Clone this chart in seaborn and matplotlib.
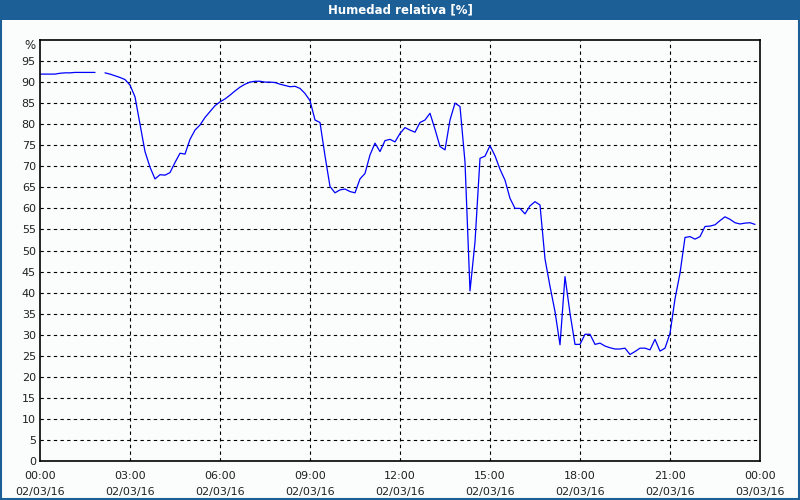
import numpy as np
import pandas as pd
import matplotlib
matplotlib.use("Agg")
import matplotlib.pyplot as plt
import seaborn as sns

# ---- data (10-minute samples, 02/03/16) ----
times = [
    "00:00", "00:10", "00:20", "00:30", "00:40", "00:50", "01:00", "01:10", "01:20", "01:30",
    "01:40", "01:50", "02:00", "02:10", "02:20", "02:30", "02:40", "02:50", "03:00", "03:10",
    "03:20", "03:30", "03:40", "03:50", "04:00", "04:10", "04:20", "04:30", "04:40", "04:50",
    "05:00", "05:10", "05:20", "05:30", "05:40", "05:50", "06:00", "06:10", "06:20", "06:30",
    "06:40", "06:50", "07:00", "07:10", "07:20", "07:30", "07:40", "07:50", "08:00", "08:10",
    "08:20", "08:30", "08:40", "08:50", "09:00", "09:10", "09:20", "09:30", "09:40", "09:50",
    "10:00", "10:10", "10:20", "10:30", "10:40", "10:50", "11:00", "11:10", "11:20", "11:30",
    "11:40", "11:50", "12:00", "12:10", "12:20", "12:30", "12:40", "12:50", "13:00", "13:10",
    "13:20", "13:30", "13:40", "13:50", "14:00", "14:10", "14:20", "14:30", "14:40", "14:50",
    "15:00", "15:10", "15:20", "15:30", "15:40", "15:50", "16:00", "16:10", "16:20", "16:30",
    "16:40", "16:50", "17:00", "17:10", "17:20", "17:30", "17:40", "17:50", "18:00", "18:10",
    "18:20", "18:30", "18:40", "18:50", "19:00", "19:10", "19:20", "19:30", "19:40", "19:50",
    "20:00", "20:10", "20:20", "20:30", "20:40", "20:50", "21:00", "21:10", "21:20", "21:30",
    "21:40", "21:50", "22:00", "22:10", "22:20", "22:30", "22:40", "22:50", "23:00", "23:10",
    "23:20", "23:30", "23:40", "23:50",
]
humidity = [
    91.9, 91.9, 91.9, 91.9, 92.1, 92.2, 92.2, 92.3, 92.3, 92.3,
    92.3, 92.3, np.nan, 92.2, 91.9, 91.5, 91.1, 90.6, 89.3, 86.5,
    80.0, 73.5, 69.8, 67.0, 68.0, 67.9, 68.5, 70.9, 73.1, 72.9,
    76.4, 78.6, 79.8, 81.6, 83.0, 84.4, 85.3, 86.0, 86.9, 87.9,
    88.8, 89.5, 90.0, 90.2, 90.2, 90.0, 90.0, 89.9, 89.5, 89.2,
    88.9, 89.0, 88.5, 87.3, 85.6, 81.0, 80.4, 72.5, 65.2, 63.7,
    64.4, 64.6, 64.0, 63.7, 67.0, 68.3, 72.7, 75.5, 73.5, 76.1,
    76.4, 75.8, 77.8, 79.2, 78.6, 78.1, 80.4, 81.0, 82.6, 78.8,
    74.7, 73.9, 81.0, 85.0, 84.2, 71.0, 40.4, 52.0, 71.9, 72.4,
    74.9, 72.5, 69.3, 66.7, 62.4, 60.0, 60.0, 58.7, 60.6, 61.6,
    60.8, 48.0, 41.5, 35.5, 27.6, 43.8, 35.1, 27.7, 27.7, 30.1,
    30.1, 27.7, 28.0, 27.3, 26.9, 26.6, 26.6, 26.8, 25.3, 26.0,
    26.8, 26.8, 26.4, 28.9, 26.1, 26.8, 30.3, 38.5, 44.6, 53.1,
    53.3, 52.7, 53.3, 55.7, 55.8, 56.1, 57.1, 58.0, 57.4, 56.6,
    56.3, 56.5, 56.6, 56.2,
]
tick_hours = [0, 3, 6, 9, 12, 15, 18, 21, 24]
tick_labels = ["00:00\n02/03/16", "03:00\n02/03/16", "06:00\n02/03/16",
               "09:00\n02/03/16", "12:00\n02/03/16", "15:00\n02/03/16",
               "18:00\n02/03/16", "21:00\n02/03/16", "00:00\n03/03/16"]
y_ticks = list(range(0, 100, 5))
title = "Humedad relativa [%]"

# ---- build frame ----
hours = [int(t[:2]) + int(t[3:]) / 60 for t in times]
df = pd.DataFrame({"hour": hours, "rh": humidity})
df["segment"] = df["rh"].isna().cumsum()
df = df.dropna()

sns.set_style("white")
plt.rcParams["font.family"] = ["DejaVu Sans"]

bg = "#FAFDFB"
blue_bar = "#1C5F96"
txt = "#202020"
fs = 8
fig = plt.figure(figsize=(8, 5), dpi=100, facecolor=bg)
ax = fig.add_axes([40 / 800, 39 / 500, 720 / 800, 421 / 500])
ax.set_facecolor(bg)

sns.lineplot(data=df, x="hour", y="rh", units="segment", estimator=None,
             color="#0000FF", linewidth=0.9, ax=ax, legend=False)

ax.set_xlim(0, 24)
ax.set_ylim(0, 100)
ax.set_xticks(tick_hours)
ax.set_xticklabels(tick_labels, fontsize=fs, color=txt, linespacing=1.75)
ax.set_xticks(range(0, 25), minor=True)
ax.set_yticks(y_ticks)
ax.set_yticklabels([str(v) for v in y_ticks], fontsize=fs, color=txt)
ax.tick_params(axis="y", length=0, pad=3)
ax.tick_params(axis="x", which="major", length=0, pad=7)
ax.tick_params(axis="x", which="minor", direction="in", length=3, width=0.8, color="black")
ax.set_xlabel("")
ax.set_ylabel("")

for h in tick_hours[1:-1]:
    ax.axvline(h, color="black", lw=0.8, ls=(0, (3, 3)), zorder=0.5)
for v in y_ticks[1:]:
    ax.axhline(v, color="black", lw=0.8, ls=(0, (3, 3)), zorder=0.5)

for s in ax.spines.values():
    s.set_visible(True)
    s.set_color("black")
    s.set_linewidth(1.2)

ax.text(-0.006, 98.6, "%", transform=ax.get_yaxis_transform(), ha="right", va="center",
        fontsize=fs + 0.5, color=txt)

# title bar & frame border
fig.patches.append(plt.Rectangle((0, 480 / 500), 1, 20 / 500, transform=fig.transFigure,
                                 facecolor=blue_bar, edgecolor="none", zorder=0))
fig.patches.append(plt.Rectangle((0.0015, 0.0025), 0.997, 0.995, transform=fig.transFigure,
                                 facecolor="none", edgecolor=blue_bar, lw=1.5, zorder=1))
fig.text(0.5, 490 / 500, title, ha="center", va="center", color="white",
         fontsize=8.5, fontweight="bold")

fig.savefig("out.png", dpi=100, facecolor=bg)
